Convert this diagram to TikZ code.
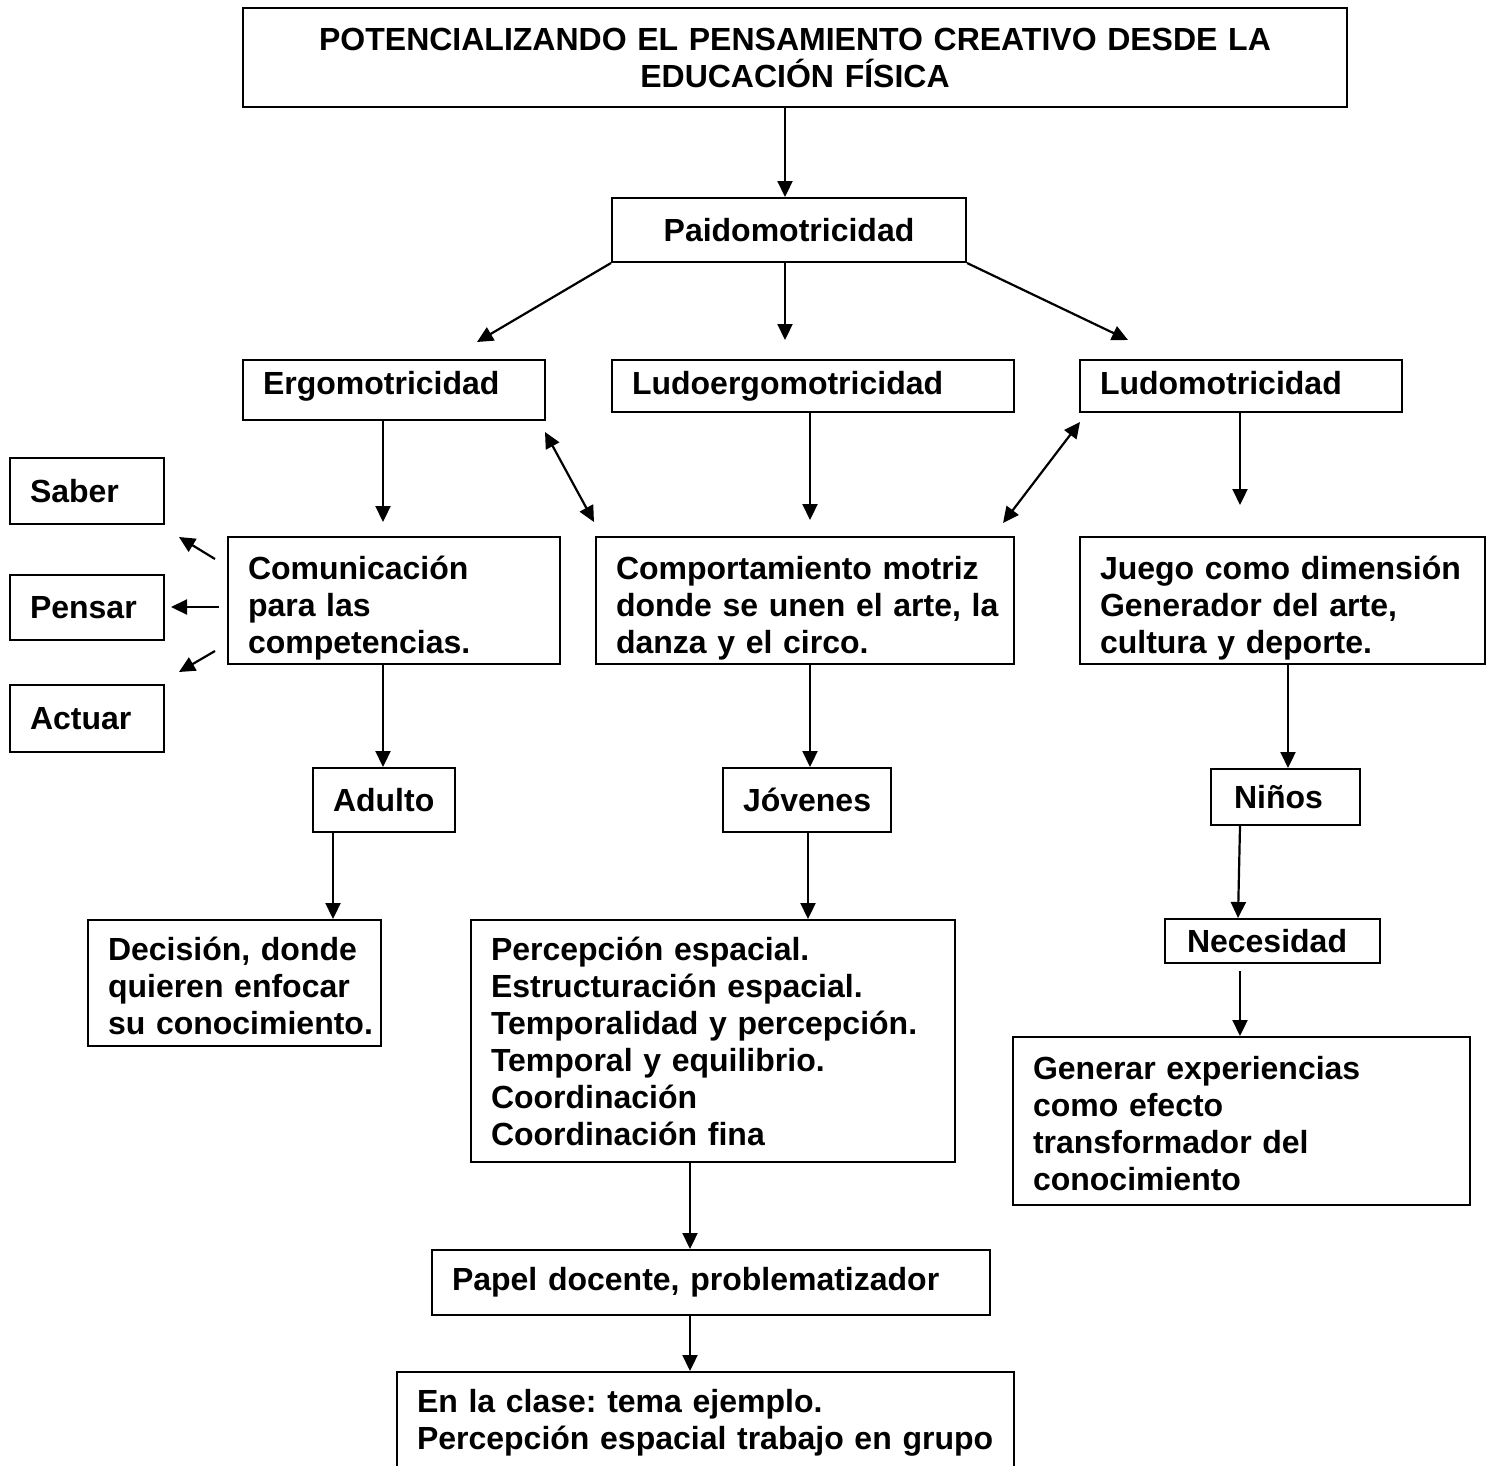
\documentclass[tikz,border=0pt]{standalone}
\usepackage{fontspec}
\setmainfont{Liberation Sans}
\usetikzlibrary{arrows.meta}
\newcommand\tline[1]{\mbox{#1}}
\newcommand\topstrut[1]{\rule{0pt}{#1}}
\begin{document}
\frenchspacing
\begin{tikzpicture}[x=1pt,y=-1pt,
  box/.style={draw, line width=2pt, rectangle, inner xsep=20pt, inner ysep=0pt,
    font=\fontsize{32}{37}\selectfont\bfseries\frenchspacing, align=left},
  cbox/.style={box, align=center},
  arr/.style={line width=2.2pt, -{Triangle[length=16pt,width=15pt]}},
  darr/.style={line width=2.2pt, {Triangle[length=16pt,width=15pt]}-{Triangle[length=16pt,width=15pt]}}]
\useasboundingbox (0,0) rectangle (1495,1465);
\clip (0,0) rectangle (1495,1465);

% nodes
\node[cbox, minimum width=1104pt, minimum height=99pt, text width=1064pt] (title) at (795,57.5)
  {\tline{POTENCIALIZANDO EL PENSAMIENTO CREATIVO DESDE LA}\\\tline{EDUCACIÓN FÍSICA}};
\node[cbox, minimum width=354pt, minimum height=64pt, text width=314pt] (paido) at (789,230) {Paidomotricidad};
\node[box, minimum width=302pt, minimum height=60pt, text width=262pt, text depth=13pt] (ergo) at (394,389.5) {Ergomotricidad};
\node[box, minimum width=402pt, minimum height=52pt, text width=362pt] (ludoergo) at (813,386) {Ludoergomotricidad};
\node[box, minimum width=322pt, minimum height=52pt, text width=282pt, text depth=7pt] (ludo) at (1241,386) {Ludomotricidad};
\node[box, minimum width=154pt, minimum height=66pt, text width=114pt] (saber) at (87,491) {Saber};
\node[box, minimum width=154pt, minimum height=65pt, text width=114pt] (pensar) at (87,607.5) {Pensar};
\node[box, minimum width=154pt, minimum height=67pt, text width=114pt] (actuar) at (87,718.5) {Actuar};
\node[box, minimum width=332pt, minimum height=127pt, text width=292pt] (com) at (394,600.5)
  {\topstrut{38pt}\tline{Comunicación}\\\tline{para las}\\\tline{competencias.}};
\node[box, minimum width=418pt, minimum height=127pt, text width=378pt] (comp) at (805,600.5)
  {\topstrut{38pt}\tline{Comportamiento motriz}\\\tline{donde se unen el arte, la}\\\tline{danza y el circo.}};
\node[box, minimum width=405pt, minimum height=127pt, text width=365pt] (juego) at (1282.5,600.5)
  {\topstrut{38pt}\tline{Juego como dimensión}\\\tline{Generador del arte,}\\\tline{cultura y deporte.}};
\node[box, minimum width=142pt, minimum height=64pt, text width=102pt] (adulto) at (384,800) {Adulto};
\node[box, minimum width=168pt, minimum height=64pt, text width=128pt] (jovenes) at (807,800) {Jóvenes};
\node[box, minimum width=149pt, minimum height=56pt, text width=109pt] (ninos) at (1285.5,797) {\tline{\hspace*{3pt}Niños}};
\node[box, minimum width=293pt, minimum height=126pt, text width=253pt] (decision) at (234.5,983)
  {\topstrut{30pt}\tline{Decisión, donde}\\\tline{quieren enfocar}\\\tline{su conocimiento.}};
\node[box, minimum width=484pt, minimum height=242pt, text width=444pt] (percep) at (713,1041)
  {\tline{Percepción espacial.}\\\tline{Estructuración espacial.}\\\tline{Temporalidad y percepción.}\\\tline{Temporal y equilibrio.}\\\tline{Coordinación}\\\tline{Coordinación fina}};
\node[box, minimum width=215pt, minimum height=44pt, text width=175pt] (necesidad) at (1272.5,941) {\tline{\hspace*{2pt}Necesidad}};
\node[box, minimum width=457pt, minimum height=168pt, text width=417pt] (generar) at (1241.5,1121)
  {\topstrut{28pt}\tline{Generar experiencias}\\\tline{como efecto}\\\tline{transformador del}\\\tline{conocimiento}};
\node[box, minimum width=558pt, minimum height=65pt, text width=518pt] (papel) at (711,1282.5)
  {\tline{Papel docente, problematizador}};
\node[box, minimum width=617pt, minimum height=102pt, text width=577pt] (enla) at (705.5,1423)
  {\tline{En la clase: tema ejemplo.}\\\tline{Percepción espacial trabajo en grupo}};

% free ends
\coordinate (e1) at (477,342);
\coordinate (e2) at (785,340);
\coordinate (e3) at (1128,340);
\coordinate (e4) at (383,522);
\coordinate (e5) at (545,432);
\coordinate (e6) at (594,522);
\coordinate (e7) at (810,520);
\coordinate (e8) at (1080,422);
\coordinate (e9) at (1003,523);
\coordinate (e10) at (1240,505);
\coordinate (s1) at (215,559);
\coordinate (t1) at (179,537);
\coordinate (s2) at (219,607);
\coordinate (t2) at (171,607);
\coordinate (s3) at (215,651);
\coordinate (t3) at (179,672);
\coordinate (n1) at (1240,971);

% connectors
\draw[arr] (785,0 |- title.south) -- (785,0 |- paido.north);
\draw[arr] (paido.south west) -- (e1);
\draw[arr] (785,0 |- paido.south) -- (e2);
\draw[arr] (paido.south east) -- (e3);
\draw[arr] (383,0 |- ergo.south) -- (e4);
\draw[darr] (e5) -- (e6);
\draw[arr] (810,0 |- ludoergo.south) -- (e7);
\draw[darr] (e8) -- (e9);
\draw[arr] (1240,0 |- ludo.south) -- (e10);
\draw[arr] (s1) -- (t1);
\draw[arr] (s2) -- (t2);
\draw[arr] (s3) -- (t3);
\draw[arr] (383,0 |- com.south) -- (383,0 |- adulto.north);
\draw[arr] (333,0 |- adulto.south) -- (333,0 |- decision.north);
\draw[arr] (810,0 |- comp.south) -- (810,0 |- jovenes.north);
\draw[arr] (808,0 |- jovenes.south) -- (808,0 |- percep.north);
\draw[arr] (690,0 |- percep.south) -- (690,0 |- papel.north);
\draw[arr] (690,0 |- papel.south) -- (690,0 |- enla.north);
\draw[arr] (1288,0 |- juego.south) -- (1288,0 |- ninos.north);
\draw[arr] (1240,0 |- ninos.south) -- (1238,0 |- necesidad.north);
\draw[arr] (n1) -- (1240,0 |- generar.north);
\end{tikzpicture}
\end{document}
